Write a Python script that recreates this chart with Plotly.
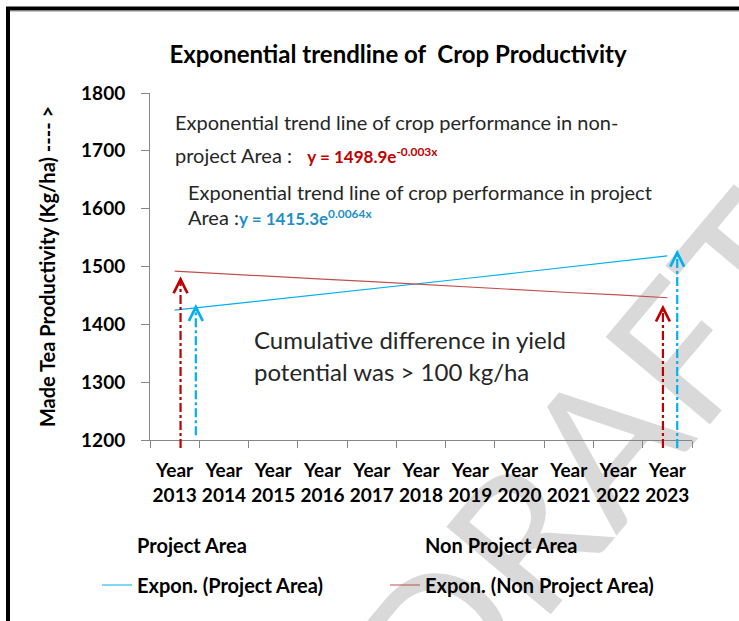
import plotly.graph_objects as go

# x categories
YEARS = ["2013", "2014", "2015", "2016", "2017", "2018", "2019", "2020", "2021", "2022", "2023"]
CATEGORIES = ["Year<br>" + y for y in YEARS]

# exponential trend values (kg/ha)
PROJECT_TREND = [1424.4, 1433.5, 1442.7, 1452.0, 1461.3, 1470.7, 1480.1, 1489.6, 1499.2, 1508.8, 1518.5]
NON_PROJECT_TREND = [1492.0, 1487.0, 1483.0, 1478.0, 1474.0, 1469.0, 1464.0, 1460.0, 1455.0, 1451.0, 1446.0]

# the raw series only show up in the legend
PROJECT_AREA = [None] * len(YEARS)
NON_PROJECT_AREA = [None] * len(YEARS)

Y_MIN, Y_MAX, Y_STEP = 1200, 1800, 100

# dash-dot arrows: category position, value at the tip, base (paper), colour
ARROW_X = [0.12, 0.43, 9.91, 10.2]
ARROW_TIP = [1483, 1435, 1434, 1529]
ARROW_BASE = [-0.023, 0.014, -0.023, -0.023]
ARROW_COLOR = ["#C00000", "#00B0F0", "#C00000", "#00B0F0"]

BLUE = "#00B0F0"
RED = "#C0504D"
FONT = "Lato"

# plot area in pixels, used to place the decorations
PLOT_L, PLOT_R, PLOT_T, PLOT_B = 150, 692, 93, 440


def px_x(px):
    return (px - PLOT_L) / (PLOT_R - PLOT_L)


def px_y(py):
    return (PLOT_B - py) / (PLOT_B - PLOT_T)


fig = go.Figure()

fig.add_trace(go.Scatter(
    x=CATEGORIES, y=PROJECT_AREA, name="Project Area", mode="markers",
    marker=dict(color="rgba(0,0,0,0)"), legend="legend",
))
fig.add_trace(go.Scatter(
    x=CATEGORIES, y=NON_PROJECT_AREA, name="Non Project Area", mode="markers",
    marker=dict(color="rgba(0,0,0,0)"), legend="legend",
))
fig.add_trace(go.Scatter(
    x=CATEGORIES, y=PROJECT_TREND, name="Expon. (Project Area)", mode="lines",
    line=dict(color=BLUE, width=1.2), legend="legend2",
))
fig.add_trace(go.Scatter(
    x=CATEGORIES, y=NON_PROJECT_TREND, name="Expon. (Non Project Area)", mode="lines",
    line=dict(color=RED, width=1.2), legend="legend2",
))

# watermark, as the label of an empty shape so it sits under everything else
fig.add_shape(
    type="rect", xref="paper", yref="paper", layer="below",
    x0=px_x(485), x1=px_x(685), y0=px_y(555), y1=px_y(355),
    line=dict(width=0), fillcolor="rgba(0,0,0,0)",
    label=dict(
        text="DRAFT", textangle=-50, textposition="middle center",
        font=dict(family=FONT, size=190, color="rgba(185,185,185,0.55)"),
    ),
)

# arrows: dash-dot shaft + open chevron head
for xa, tip, base, col in zip(ARROW_X, ARROW_TIP, ARROW_BASE, ARROW_COLOR):
    fig.add_shape(
        type="line", xref="x", yref="paper",
        x0=xa, x1=xa, y0=base, y1=(tip - Y_MIN) / (Y_MAX - Y_MIN) - 0.01,
        line=dict(color=col, width=2.2, dash="dashdot"),
    )
    fig.add_annotation(
        x=xa, y=tip, xref="x", yref="y", text="", showarrow=True,
        arrowhead=5, arrowsize=1.7, arrowwidth=1.6, arrowcolor=col,
        ax=0, ay=30, startstandoff=22,
    )

note_font = dict(family=FONT, size=20, color="#262626")
eq_style = "font-size:17px"
fig.add_annotation(
    x=-0.03, y=1750, xref="x", yref="y", xanchor="left", yanchor="middle",
    text="Exponential trend line of crop performance in non-",
    showarrow=False, font=note_font,
)
fig.add_annotation(
    x=-0.03, y=1692, xref="x", yref="y", xanchor="left", yanchor="middle",
    text="project Area :&nbsp;&nbsp;&nbsp;<span style='color:#C00000;" + eq_style
         + "'><b>y = 1498.9e<sup>-0.003x</sup></b></span>",
    showarrow=False, font=note_font,
)
fig.add_annotation(
    x=0.23, y=1629, xref="x", yref="y", xanchor="left", yanchor="middle",
    text="Exponential trend line of crop performance in project",
    showarrow=False, font=note_font,
)
fig.add_annotation(
    x=0.23, y=1585, xref="x", yref="y", xanchor="left", yanchor="middle",
    text="Area :<span style='color:#1F8FC8;" + eq_style
         + "'><b>y = 1415.3e<sup>0.0064x</sup></b></span>",
    showarrow=False, font=note_font,
)

big_font = dict(family=FONT, size=24, color="#262626")
fig.add_annotation(
    x=1.57, y=1374, xref="x", yref="y", xanchor="left", yanchor="middle",
    text="Cumulative difference in yield", showarrow=False, font=big_font,
)
fig.add_annotation(
    x=1.57, y=1319, xref="x", yref="y", xanchor="left", yanchor="middle",
    text="potential was > 100 kg/ha", showarrow=False, font=big_font,
)

# frame round the picture
fig.add_shape(
    type="rect", xref="paper", yref="paper",
    x0=px_x(8), x1=px_x(780), y0=px_y(660), y1=px_y(8.5),
    line=dict(color="black", width=4),
)
fig.add_shape(
    type="line", xref="paper", yref="paper",
    x0=px_x(10), x1=px_x(739), y0=px_y(11.5), y1=px_y(11.5),
    line=dict(color="#c8c8c8", width=1),
)

tick_font = dict(family=FONT, size=19, color="black", weight="bold")
legend_font = dict(family=FONT, size=20, color="black", weight="bold")

fig.update_layout(
    width=739, height=621,
    margin=dict(l=PLOT_L, r=739 - PLOT_R, t=PLOT_T, b=621 - PLOT_B),
    paper_bgcolor="white", plot_bgcolor="white",
    title=dict(
        text="<b>Exponential trendline of&nbsp; Crop Productivity</b>",
        font=dict(family=FONT, size=24, color="black"),
        x=398 / 739, xanchor="center", xref="container",
        y=1 - 55 / 621, yanchor="middle", yref="container",
    ),
    xaxis=dict(
        type="category", tickson="boundaries", range=[-0.5, 10.5],
        showline=True, linecolor="#868686", linewidth=1,
        ticks="outside", ticklen=7, tickcolor="#868686", tickangle=0,
        showgrid=False, zeroline=False, automargin=False,
        ticklabelstandoff=13, tickfont=tick_font,
    ),
    yaxis=dict(
        range=[Y_MIN, Y_MAX], dtick=Y_STEP, tick0=Y_MIN,
        showline=True, linecolor="#868686", linewidth=1,
        ticks="outside", ticklen=8, tickcolor="#868686",
        showgrid=False, zeroline=False, ticklabelstandoff=12, automargin=False,
        tickfont=tick_font,
        title=dict(
            text="<b>Made Tea Productivity (Kg/ha) ---- ></b>",
            font=dict(family=FONT, size=20, color="black"), standoff=20,
        ),
    ),
    legend=dict(
        orientation="h", xref="paper", yref="paper",
        x=px_x(97), y=px_y(545), xanchor="left", yanchor="middle",
        entrywidth=243, entrywidthmode="pixels",
        font=legend_font, bgcolor="rgba(0,0,0,0)",
    ),
    legend2=dict(
        orientation="h", xref="paper", yref="paper",
        x=px_x(97), y=px_y(585), xanchor="left", yanchor="middle",
        entrywidth=243, entrywidthmode="pixels",
        font=legend_font, bgcolor="rgba(0,0,0,0)",
    ),
)

# drop the default page margin so the figure sits at the window corner
fig.write_html(
    "out.html",
    config={"displayModeBar": False},
    post_script="document.body.style.margin = '0';",
)
